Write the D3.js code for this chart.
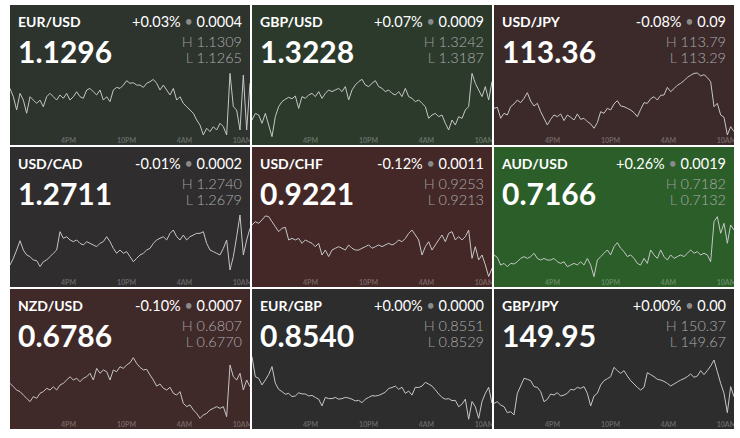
<!DOCTYPE html>
<html><head><meta charset="utf-8">
<script src="https://cdn.jsdelivr.net/npm/d3@7"></script>
<style>
body{margin:0;background:#fff;}
svg{display:block;font-family:Lato,"Open Sans",sans-serif;}
</style></head><body>
<svg id="chart" width="740" height="438"></svg>
<script>
const pairs = ["EUR/USD","GBP/USD","USD/JPY","USD/CAD","USD/CHF","AUD/USD","NZD/USD","EUR/GBP","GBP/JPY"];
const prices = ["1.1296","1.3228","113.36","1.2711","0.9221","0.7166","0.6786","0.8540","149.95"];
const changePct = [0.03,0.07,-0.08,-0.01,-0.12,0.26,-0.10,0.00,0.00];
const changeAbs = ["0.0004","0.0009","0.09","0.0002","0.0011","0.0019","0.0007","0.0000","0.00"];
const highs = ["1.1309","1.3242","113.79","1.2740","0.9253","0.7182","0.6807","0.8551","150.37"];
const lows  = ["1.1265","1.3187","113.29","1.2679","0.9213","0.7132","0.6770","0.8529","149.67"];
const tickHours = [16,22,28,34];
const tickLabels = ["4PM","10PM","4AM","10AM"];
const startHour = 10, endHour = 34 + 50/60;

const eurusd = [1.12984,1.12927,1.12836,1.12950,1.12904,1.12813,1.12927,1.12904,1.12881,1.12904,
 1.12858,1.12927,1.12950,1.12927,1.12904,1.12939,1.12916,1.12950,1.12904,1.12927,
 1.12961,1.12927,1.12916,1.12973,1.12984,1.12961,1.12939,1.12973,1.12904,1.12927,
 1.12893,1.12973,1.12991,1.12984,1.13007,1.13037,1.13019,1.13023,1.13007,1.13007,
 1.12991,1.13019,1.13030,1.13046,1.13019,1.12973,1.13007,1.12973,1.12939,1.12984,
 1.12904,1.12927,1.12881,1.12858,1.12836,1.12813,1.12767,1.12732,1.12664,1.12710,
 1.12687,1.12721,1.12698,1.12744,1.12721,1.12664,1.13087,1.12858,1.12836,1.12698,
 1.13076,1.12698,1.13019];
const gbpusd = [1.32016,1.32073,1.32059,1.31988,1.32073,1.31973,1.31873,1.32045,1.32131,1.32174,
 1.32194,1.32211,1.32199,1.32222,1.32116,1.32217,1.32202,1.32231,1.32245,1.32217,
 1.32260,1.32202,1.32245,1.32274,1.32260,1.32274,1.32288,1.32260,1.32303,1.32188,
 1.32274,1.32317,1.32346,1.32366,1.32317,1.32303,1.32331,1.32354,1.32303,1.32288,
 1.32260,1.32274,1.32245,1.32231,1.32260,1.32217,1.32288,1.32217,1.32202,1.32174,
 1.32188,1.32159,1.32131,1.32030,1.32059,1.32073,1.32045,1.32059,1.31988,1.31930,
 1.32016,1.31973,1.32045,1.32030,1.32102,1.32131,1.32417,1.32331,1.32274,1.32217,
 1.32303,1.32188,1.32346];
const usdjpy = [113.514,113.522,113.436,113.475,113.462,113.527,113.548,113.579,113.558,113.592,
 113.636,113.571,113.532,113.553,113.488,113.436,113.384,113.428,113.462,113.449,
 113.470,113.418,113.462,113.444,113.423,113.470,113.428,113.436,113.410,113.392,
 113.358,113.402,113.488,113.475,113.514,113.501,113.548,113.574,113.532,113.527,
 113.514,113.501,113.480,113.449,113.506,113.558,113.553,113.589,113.605,113.579,
 113.616,113.618,113.678,113.644,113.668,113.694,113.709,113.730,113.756,113.772,
 113.787,113.790,113.767,113.777,113.754,113.722,113.527,113.553,113.462,113.444,
 113.306,113.371,113.332];
const usdcad = [1.26923,1.26987,1.27066,1.27155,1.27066,1.27019,1.27003,1.26971,1.26965,1.26908,
 1.26955,1.26971,1.27003,1.27035,1.27066,1.27241,1.27178,1.27193,1.27162,1.27146,
 1.27162,1.27130,1.27114,1.27146,1.27130,1.27114,1.27098,1.27130,1.27146,1.27193,
 1.27146,1.27082,1.27035,1.27066,1.27035,1.27051,1.27003,1.26955,1.26987,1.27019,
 1.27035,1.27066,1.27082,1.27130,1.27162,1.27178,1.27193,1.27162,1.27225,1.27257,
 1.27193,1.27162,1.27209,1.27162,1.27193,1.27209,1.27225,1.27225,1.27241,1.27130,
 1.27066,1.27051,1.27035,1.27019,1.27082,1.27162,1.26876,1.27003,1.27193,1.27400,
 1.27019,1.27162,1.27273];
const usdchf = [0.92468,0.92488,0.92478,0.92499,0.92524,0.92520,0.92488,0.92457,0.92426,0.92447,
 0.92453,0.92374,0.92384,0.92374,0.92384,0.92353,0.92374,0.92363,0.92353,0.92332,
 0.92353,0.92280,0.92311,0.92270,0.92311,0.92322,0.92332,0.92322,0.92311,0.92343,
 0.92322,0.92311,0.92311,0.92322,0.92332,0.92343,0.92322,0.92332,0.92343,0.92332,
 0.92343,0.92353,0.92343,0.92353,0.92374,0.92363,0.92384,0.92415,0.92436,0.92405,
 0.92374,0.92280,0.92332,0.92363,0.92311,0.92343,0.92374,0.92405,0.92363,0.92415,
 0.92426,0.92374,0.92395,0.92374,0.92395,0.92436,0.92259,0.92332,0.92249,0.92280,
 0.92218,0.92145,0.92197];
const audusd = [0.71508,0.71489,0.71429,0.71442,0.71416,0.71442,0.71437,0.71455,0.71481,0.71495,
 0.71481,0.71495,0.71521,0.71481,0.71468,0.71481,0.71468,0.71468,0.71481,0.71455,
 0.71442,0.71455,0.71416,0.71429,0.71442,0.71429,0.71455,0.71429,0.71481,0.71429,
 0.71338,0.71468,0.71495,0.71521,0.71547,0.71508,0.71573,0.71604,0.71560,0.71534,
 0.71495,0.71508,0.71481,0.71442,0.71429,0.71481,0.71442,0.71547,0.71508,0.71481,
 0.71547,0.71495,0.71468,0.71508,0.71481,0.71495,0.71508,0.71495,0.71521,0.71547,
 0.71521,0.71534,0.71508,0.71521,0.71508,0.71455,0.71768,0.71807,0.71677,0.71755,
 0.71599,0.71742,0.71703];
const nzdusd = [0.67918,0.67898,0.67879,0.67870,0.67850,0.67831,0.67812,0.67841,0.67831,0.67860,
 0.67870,0.67889,0.67879,0.67898,0.67879,0.67908,0.67918,0.67937,0.67956,0.67937,
 0.67947,0.67927,0.67947,0.67956,0.67976,0.67937,0.68004,0.67976,0.67995,0.67985,
 0.67937,0.67995,0.67985,0.68014,0.68004,0.68024,0.68037,0.68066,0.68033,0.68010,
 0.67995,0.67999,0.67966,0.67937,0.67902,0.67914,0.67889,0.67879,0.67895,0.67860,
 0.67850,0.67870,0.67802,0.67783,0.67793,0.67764,0.67744,0.67715,0.67735,0.67744,
 0.67764,0.67773,0.67783,0.67773,0.67783,0.67725,0.68024,0.67956,0.67937,0.67976,
 0.67879,0.67937,0.67898];
const eurgbp = [0.85511,0.85442,0.85437,0.85414,0.85431,0.85450,0.85477,0.85420,0.85399,0.85391,
 0.85382,0.85385,0.85374,0.85376,0.85387,0.85383,0.85383,0.85376,0.85378,0.85371,
 0.85365,0.85342,0.85371,0.85367,0.85367,0.85371,0.85365,0.85367,0.85371,0.85369,
 0.85365,0.85359,0.85361,0.85353,0.85365,0.85371,0.85377,0.85376,0.85378,0.85383,
 0.85389,0.85402,0.85405,0.85410,0.85399,0.85406,0.85385,0.85393,0.85379,0.85406,
 0.85405,0.85410,0.85423,0.85417,0.85410,0.85397,0.85383,0.85371,0.85365,0.85367,
 0.85360,0.85361,0.85339,0.85348,0.85365,0.85296,0.85357,0.85339,0.85299,0.85357,
 0.85385,0.85406,0.85351];
const gbpjpy = [149.863,149.881,149.845,149.827,149.761,149.772,149.736,149.973,150.053,150.137,
 150.126,150.111,150.046,150.038,149.991,149.881,149.907,149.965,149.954,149.980,
 149.943,149.954,149.973,150.016,150.009,150.038,150.027,150.046,149.973,149.834,
 149.943,149.973,150.064,150.111,150.133,150.155,150.257,150.221,150.191,150.221,
 150.162,150.111,150.075,150.038,150.009,150.038,150.199,150.177,150.155,150.126,
 150.118,150.104,150.082,150.053,150.075,150.097,150.118,150.133,150.155,150.184,
 150.148,150.162,150.221,150.177,150.221,150.272,150.337,150.210,150.082,149.973,
 149.761,150.046,149.936];
const series = [eurusd,gbpusd,usdjpy,usdcad,usdchf,audusd,nzdusd,eurgbp,gbpjpy];

const svg = d3.select("#chart");
const tileW = 240, tileH = 140, gap = 2, marginLeft = 10, marginTop = 5;
const lineTop = 68, lineBottom = 132;
const color = d3.scaleLinear().domain([-0.12,0,0.26])
  .range(["#442828","#2d2d2d","#2b5e29"]).clamp(true);
const x = d3.scaleLinear().domain([startHour,endHour]).range([0,tileW]);
const fmtPct = v => (v < 0 ? "-" : "+") + Math.abs(v).toFixed(2) + "%";

pairs.forEach((p,k) => {
  const col = k % 3, row = Math.floor(k / 3);
  const g = svg.append("g")
    .attr("transform", `translate(${marginLeft + col*(tileW+gap)},${marginTop + row*(tileH+gap)})`);
  const cid = "clip" + k;
  g.append("clipPath").attr("id", cid).append("rect").attr("width", tileW).attr("height", tileH);
  const inner = g.append("g").attr("clip-path", `url(#${cid})`);
  inner.append("rect").attr("width", tileW).attr("height", tileH).attr("fill", color(changePct[k]));

  const ax = inner.append("g").attr("transform", `translate(0,${lineBottom+1})`)
    .call(d3.axisBottom(x).tickValues(tickHours).tickFormat((d,i) => tickLabels[i]).tickSize(0).tickPadding(0));
  ax.select(".domain").remove();
  ax.selectAll("text").attr("font-family","Lato,sans-serif").attr("font-size",7)
    .attr("font-weight","bold").attr("fill","rgba(255,255,255,0.28)");

  const vals = series[k];
  const n = vals.length;
  const y = d3.scaleLinear().domain([+lows[k], +highs[k]]).range([lineBottom, lineTop]);
  const line = d3.line()
    .x((d,i) => x(startHour + i*(endHour-startHour)/(n-1)))
    .y(d => y(d));
  inner.append("path").datum(vals).attr("d", line)
    .attr("fill","none").attr("stroke","#c6c6c6").attr("stroke-width",1)
    .attr("stroke-linejoin","round");

  inner.append("text").attr("x",8).attr("y",22).attr("font-size",14).attr("font-weight","bold")
    .attr("fill","#fff").text(p);
  const ch = inner.append("text").attr("x",232).attr("y",22).attr("font-size",14.5)
    .attr("text-anchor","end").attr("fill","#fff");
  ch.append("tspan").text(fmtPct(changePct[k]));
  ch.append("tspan").attr("fill","#8a8a8a").text(" \u2022 ");
  ch.append("tspan").text(changeAbs[k]);
  inner.append("text").attr("x",8).attr("y",58).attr("font-size",30).attr("font-weight","bold")
    .attr("fill","#fff").text(prices[k]);
  const hl = [["H",highs[k],42],["L",lows[k],58]];
  hl.forEach(([lab,val,yy]) => {
    const t = inner.append("text").attr("x",232).attr("y",yy).attr("font-size",14.5)
      .attr("text-anchor","end").attr("fill","#adadad").attr("font-weight",300);
    t.append("tspan").attr("fill","#9a9a9a").text(lab + " ");
    t.append("tspan").text(val);
  });
});
</script>
</body></html>
